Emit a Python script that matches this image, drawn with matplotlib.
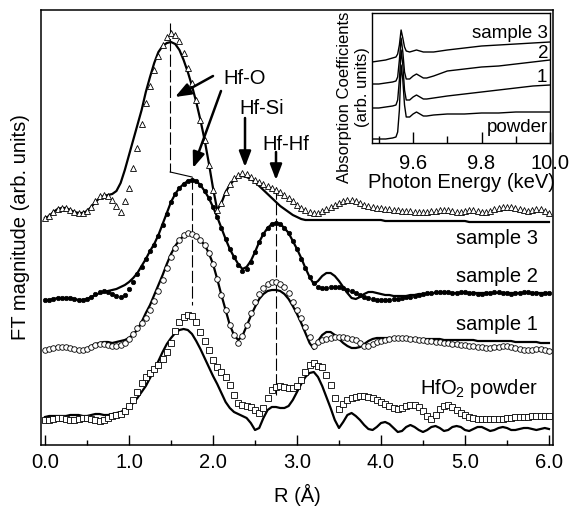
import numpy as np
import matplotlib

matplotlib.use("Agg")
import matplotlib.pyplot as plt
from matplotlib.ticker import FormatStrFormatter, MultipleLocator

plt.rcParams["font.family"] = ["Liberation Sans", "DejaVu Sans"]
plt.rcParams["mathtext.fontset"] = "custom"
plt.rcParams["mathtext.rm"] = "Liberation Sans"
plt.rcParams["mathtext.default"] = "regular"

# radial distance grid, 0.05 A steps
r = np.linspace(0.0, 6.0, 121)

# FT magnitudes (arb. units), already stacked as drawn
sample3_data = [
    227, 229, 233, 236, 237, 237, 235, 233, 232, 232, 234, 238, 244, 249, 250, 249, 245, 239, 233, 244,
    257, 277, 297, 321, 342, 359, 375, 389, 400, 408, 412, 410, 404, 392, 377, 362, 345, 325, 305, 280,
    255, 235, 242, 253, 261, 267, 270, 272, 271, 268, 265, 263, 261, 259, 257, 255, 253, 250, 247, 244,
    240, 237, 235, 233, 232, 232, 234, 236, 238, 240, 242, 244, 245, 245, 244, 242, 240, 239, 238, 237,
    237, 236, 236, 235, 235, 234, 234, 234, 233, 233, 233, 233, 234, 234, 235, 235, 235, 234, 233, 233,
    234, 235, 235, 234, 233, 233, 234, 236, 237, 238, 238, 238, 237, 236, 235, 234, 235, 236, 236, 234,
    232,
]
sample3_fit = [
    227, 229, 233, 236, 237, 237, 235, 233, 232, 232, 234, 238, 243, 247, 249, 250, 251, 254, 262, 275,
    290, 305, 320, 335, 353, 368, 382, 393, 399, 402, 403, 401, 395, 385, 373, 359, 343, 325, 305, 282,
    257, 235, 242, 253, 260, 265, 268, 269, 268, 266, 263, 259, 255, 251, 247, 243, 239, 236, 233, 230,
    228, 226, 225, 225, 225, 225, 225, 225, 225, 225, 225, 225, 225, 225, 225, 225, 225, 225, 225, 225,
    225, 224, 224, 224, 224, 224, 224, 224, 224, 224, 224, 224, 224, 224, 224, 224, 224, 224, 224, 224,
    224, 223, 223, 223, 223, 223, 223, 223, 223, 223, 223, 223, 223, 223, 223, 223, 223, 223, 223, 223,
    223,
]
sample2_data = [
    145, 145, 146, 147, 147, 147, 147, 146, 145, 145, 146, 148, 151, 153, 154, 153, 151, 149, 148, 150,
    156, 163, 171, 178, 186, 194, 200, 209, 220, 231, 243, 251, 257, 261, 264, 265, 264, 260, 254, 247,
    238, 228, 217, 206, 196, 188, 180, 174, 176, 183, 193, 203, 211, 217, 221, 222, 221, 217, 212, 204,
    196, 186, 177, 168, 162, 158, 157, 157, 158, 158, 158, 157, 155, 154, 152, 150, 148, 147, 146, 145,
    145, 145, 145, 146, 146, 147, 148, 148, 149, 150, 151, 152, 152, 153, 153, 153, 153, 152, 152, 153,
    153, 152, 152, 151, 151, 152, 152, 153, 153, 152, 152, 151, 152, 152, 153, 153, 152, 152, 151, 152,
    152,
]
sample2_fit = [
    145, 145, 146, 147, 147, 147, 147, 146, 145, 145, 146, 148, 150, 152, 153, 154, 155, 156, 158, 160,
    163, 167, 172, 179, 186, 194, 201, 210, 221, 232, 243, 251, 257, 261, 264, 265, 264, 260, 254, 247,
    238, 228, 217, 206, 196, 188, 181, 176, 178, 184, 193, 203, 211, 217, 221, 222, 221, 217, 212, 204,
    196, 187, 177, 168, 161, 164, 169, 172, 172, 169, 164, 158, 152, 147, 146, 148, 151, 153, 153, 152,
    151, 150, 150, 149, 149, 149, 149, 150, 150, 151, 151, 151, 152, 152, 152, 152, 152, 152, 152, 152,
    152, 152, 152, 152, 152, 152, 152, 152, 152, 152, 152, 152, 152, 152, 152, 152, 152, 152, 152, 152,
    152,
]
sample1_data = [
    95, 96, 97, 98, 98, 98, 97, 96, 95, 95, 96, 98, 100, 101, 101, 100, 99, 99, 100, 102,
    106, 111, 117, 122, 127, 135, 144, 154, 165, 177, 188, 197, 205, 210, 212, 211, 209, 205, 200, 192,
    181, 166, 150, 135, 120, 110, 102, 109, 120, 132, 143, 151, 157, 161, 163, 163, 161, 158, 152, 143,
    135, 127, 118, 108, 99, 103, 105, 106, 107, 108, 108, 108, 107, 106, 105, 102, 99, 99, 101, 103,
    104, 105, 106, 107, 107, 107, 107, 106, 106, 105, 105, 104, 104, 103, 103, 102, 102, 101, 101, 100,
    100, 99, 99, 98, 98, 97, 97, 98, 98, 99, 99, 98, 97, 96, 95, 95, 95, 96, 96, 95,
    94,
]
sample1_fit = [
    95, 96, 97, 98, 98, 98, 97, 96, 95, 95, 96, 99, 101, 102, 103, 103, 102, 103, 104, 105,
    107, 111, 115, 123, 132, 140, 150, 160, 170, 181, 191, 199, 205, 209, 211, 211, 209, 205, 200, 192,
    181, 166, 150, 135, 120, 110, 105, 109, 119, 129, 138, 146, 151, 154, 155, 155, 154, 151, 146, 139,
    131, 122, 112, 102, 96, 104, 110, 113, 113, 110, 106, 102, 99, 97, 97, 98, 101, 104, 106, 107,
    107, 107, 107, 107, 107, 107, 107, 106, 106, 106, 106, 106, 106, 106, 106, 105, 105, 105, 105, 105,
    105, 105, 105, 104, 104, 104, 104, 104, 104, 104, 104, 104, 103, 103, 103, 103, 103, 103, 102, 102,
    102,
]
powder_data = [
    25, 25, 26, 27, 27, 26, 25, 25, 26, 27, 27, 26, 25, 24, 25, 27, 29, 30, 31, 34,
    39, 45, 53, 62, 68, 72, 76, 80, 86, 93, 102, 114, 123, 128, 130, 129, 123, 113, 104, 95,
    85, 78, 73, 68, 60, 50, 42, 40, 39, 38, 35, 32, 37, 47, 55, 58, 59, 58, 57, 57,
    59, 65, 73, 80, 82, 79, 78, 70, 60, 47, 36, 41, 45, 47, 48, 49, 49, 48, 47, 45,
    43, 41, 39, 37, 36, 37, 39, 40, 40, 38, 34, 29, 26, 30, 36, 39, 40, 38, 35, 32,
    30, 28, 27, 26, 26, 26, 26, 26, 26, 26, 27, 27, 28, 28, 28, 28, 29, 29, 29, 29,
    29,
]
powder_fit = [
    28, 29, 29, 29, 29, 29, 30, 30, 30, 29, 29, 30, 31, 31, 30, 30, 31, 32, 33, 35,
    38, 42, 47, 53, 59, 67, 75, 84, 93, 101, 107, 112, 115, 116, 115, 111, 104, 96, 87, 78,
    69, 61, 52, 43, 37, 33, 31, 29, 27, 22, 15, 17, 27, 35, 38, 38, 37, 37, 39, 45,
    53, 61, 68, 72, 73, 68, 59, 48, 37, 25, 17, 23, 30, 32, 29, 25, 20, 16, 15, 18,
    22, 23, 21, 17, 13, 14, 18, 20, 18, 15, 13, 15, 18, 19, 17, 14, 15, 18, 19, 18,
    15, 14, 16, 18, 18, 16, 14, 15, 17, 18, 17, 15, 15, 16, 17, 17, 16, 15, 16, 17,
    16,
]

# inset: Hf L3-edge XANES, stacked
energy = [9.48, 9.50, 9.52, 9.54, 9.55, 9.555, 9.56, 9.565, 9.57, 9.575, 9.58, 9.59, 9.60,
          9.61, 9.62, 9.63, 9.64, 9.66, 9.70, 9.75, 9.80, 9.85, 9.90, 9.95, 10.0]
xanes_sample3 = [81, 82, 83, 85, 86, 89, 98, 113, 105, 96, 92, 91, 92,
                 93, 92, 91, 91, 91, 93, 95, 97, 98, 99, 100, 101]
xanes_sample2 = [59, 59, 60, 61, 62, 66, 83, 105, 91, 71, 64, 64, 67,
                 69, 67, 65, 65, 67, 72, 74, 76, 77, 79, 81, 83]
xanes_sample1 = [35, 35, 36, 37, 38, 43, 63, 93, 78, 53, 43, 43, 46,
                 48, 46, 44, 44, 45, 47, 49, 51, 53, 55, 57, 58]
xanes_powder = [4, 4, 4, 5, 6, 11, 33, 78, 63, 38, 26, 26, 29,
                31, 29, 27, 27, 28, 29, 29, 30, 30, 31, 31, 31]

FS = 14.5

fig = plt.figure(figsize=(5.69, 5.08), dpi=100)
ax = fig.add_axes([41 / 569, 63 / 508, 512 / 569, 435 / 508])

ax.plot(r, sample3_fit, color="k", lw=1.6, zorder=2)
ax.plot(r, sample3_data, ls="none", marker="^", ms=4.0, mfc="white", mec="k", mew=0.6, zorder=3)
ax.plot(r, sample2_fit, color="k", lw=1.6, zorder=2)
ax.plot(r, sample2_data, ls="none", marker="o", ms=3.2, mfc="k", mec="k", mew=0.5, zorder=3)
ax.plot(r, sample1_fit, color="k", lw=1.6, zorder=2)
ax.plot(r, sample1_data, ls="none", marker="o", ms=4.0, mfc="white", mec="k", mew=0.6, zorder=3)
ax.plot(r, powder_fit, color="k", lw=1.6, zorder=2)
ax.plot(r, powder_data, ls="none", marker="s", ms=4.8, mfc="white", mec="k", mew=0.6, zorder=3)

# guide lines for the Hf-O and Hf-Hf shells
guide = dict(color="k", lw=0.8, ls=(0, (11, 3)), zorder=1)
ax.plot([1.49, 1.49], [422, 273], **guide)
ax.plot([1.49, 1.75], [273, 268], color="k", lw=0.8, zorder=1)
ax.plot([1.75, 1.75], [268, 140], **guide)
ax.plot([2.75, 2.75], [258, 50], **guide)

arrow = dict(arrowstyle="-|>,head_length=0.47,head_width=0.18", lw=1.8, color="k",
             shrinkA=0, shrinkB=0, mutation_scale=20)
ax.annotate("", xy=(1.548, 348), xytext=(2.0, 369), arrowprops=arrow)
ax.annotate("", xy=(1.762, 277), xytext=(2.095, 354), arrowprops=arrow)
ax.annotate("", xy=(2.381, 278), xytext=(2.381, 327), arrowprops=arrow)
ax.annotate("", xy=(2.75, 265), xytext=(2.75, 293), arrowprops=arrow)
ax.text(2.381, 367, "Hf-O", fontsize=FS, ha="center", va="center")
ax.text(2.583, 337, "Hf-Si", fontsize=FS, ha="center", va="center")
ax.text(2.869, 300, "Hf-Hf", fontsize=FS, ha="center", va="center")

ax.text(5.869, 207, "sample 3", fontsize=FS, ha="right", va="center")
ax.text(5.869, 168, "sample 2", fontsize=FS, ha="right", va="center")
ax.text(5.869, 120, "sample 1", fontsize=FS, ha="right", va="center")
ax.text(5.869, 57, "HfO$_2$ powder", fontsize=FS, ha="right", va="center")

ax.set_xlim(-0.048, 6.048)
ax.set_ylim(0, 435)
ax.set_yticks([])
ax.xaxis.set_major_locator(MultipleLocator(1.0))
ax.xaxis.set_minor_locator(MultipleLocator(0.5))
ax.xaxis.set_major_formatter(FormatStrFormatter("%.1f"))
ax.tick_params(axis="x", which="major", direction="in", length=7, width=1, labelsize=FS, pad=6)
ax.tick_params(axis="x", which="minor", direction="in", length=3.5, width=1)
ax.set_xlabel("R (\u00c5)", fontsize=FS, labelpad=8)
ax.set_ylabel("FT magnitude (arb. units)", fontsize=FS, labelpad=8)
for sp in ax.spines.values():
    sp.set_linewidth(1.1)

# inset
axin = fig.add_axes([372 / 569, 365 / 508, 178 / 569, 130 / 508])
for mu in (xanes_sample3, xanes_sample2, xanes_sample1, xanes_powder):
    axin.plot(energy, mu, color="k", lw=1.0)
axin.set_xlim(9.48, 10.0)
axin.set_ylim(0, 130)
axin.set_yticks([])
axin.set_xticks([9.6, 9.8, 10.0])
axin.set_xticks([9.5, 9.7, 9.9], minor=True)
axin.xaxis.set_major_formatter(FormatStrFormatter("%.1f"))
axin.tick_params(axis="x", which="major", direction="in", length=8, width=1, labelsize=FS, pad=8)
axin.tick_params(axis="x", which="minor", direction="in", length=5, width=1)
axin.set_xlabel("Photon Energy (keV)", fontsize=FS, labelpad=0)
for sp in axin.spines.values():
    sp.set_linewidth(1.0)
axin.text(9.995, 110, "sample 3", fontsize=13.5, ha="right", va="center")
axin.text(9.995, 90, "2", fontsize=13.5, ha="right", va="center")
axin.text(9.99, 66, "1", fontsize=13.5, ha="right", va="center")
axin.text(9.995, 16, "powder", fontsize=13.5, ha="right", va="center")

fig.text(345 / 569, 1 - 97 / 508, "Absorption Coefficients", rotation=90, fontsize=12,
         ha="center", va="center")
fig.text(363 / 569, 1 - 87 / 508, "(arb. units)", rotation=90, fontsize=12,
         ha="center", va="center")

fig.savefig("out.png", dpi=100, facecolor="white")
